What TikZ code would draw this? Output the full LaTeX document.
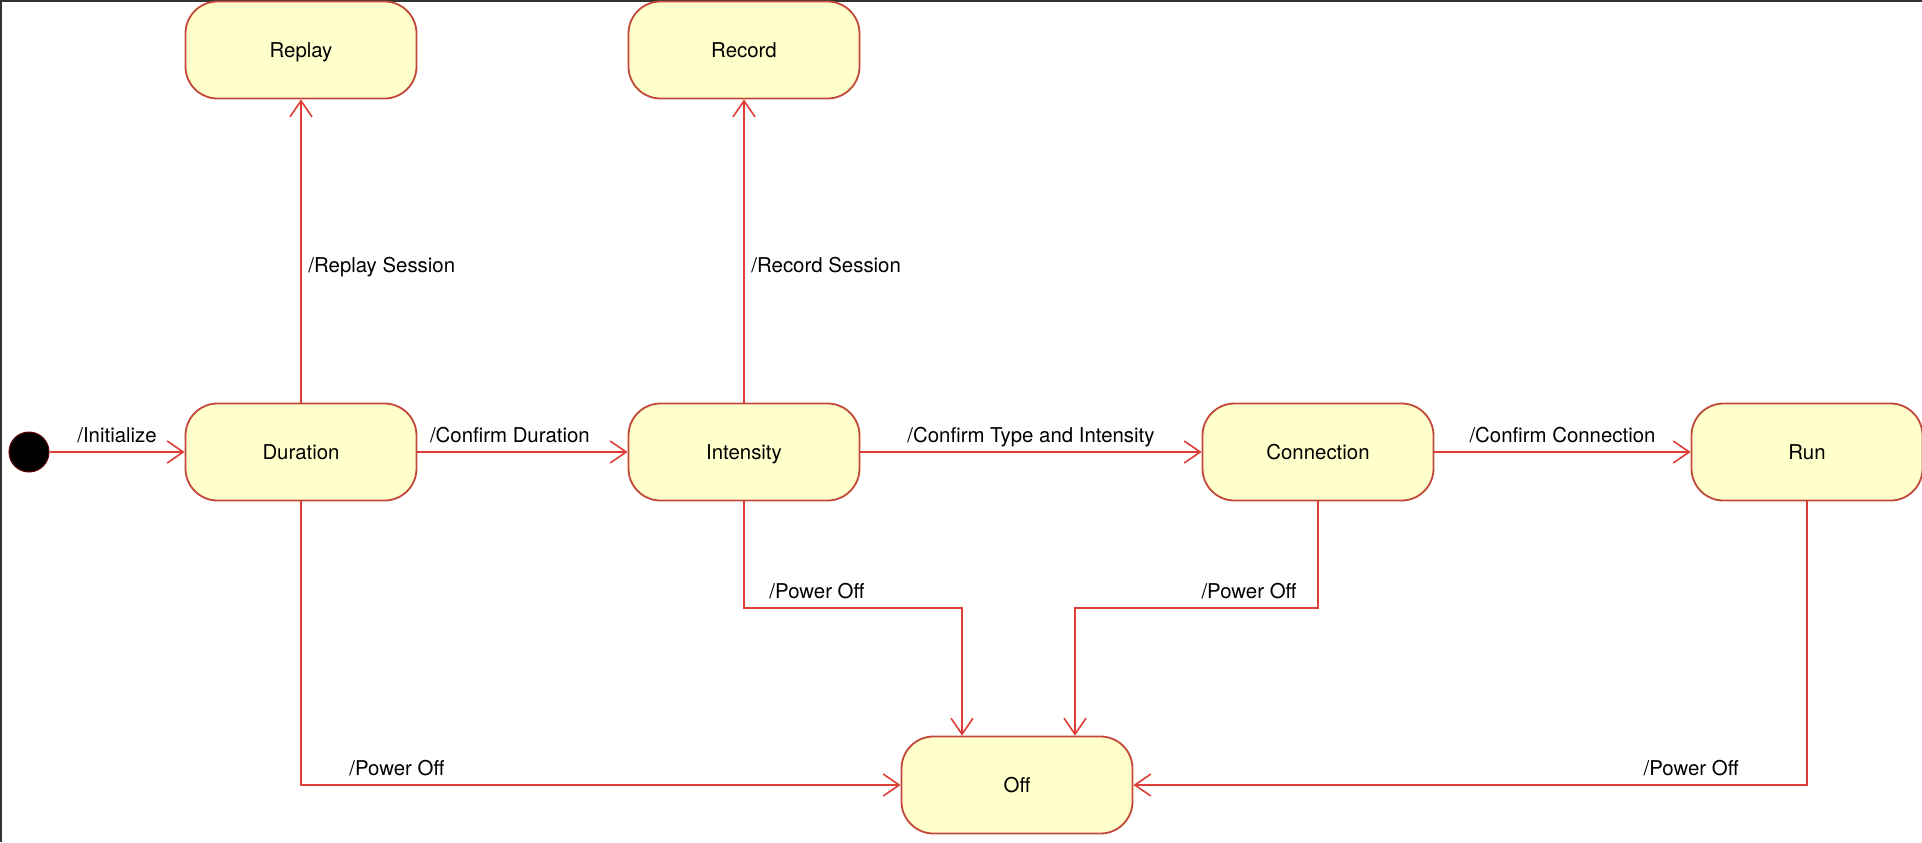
\documentclass[tikz,border=0pt]{standalone}
\usepackage{fontspec}
\setmainfont{TeX Gyre Heros}
\usetikzlibrary{arrows.meta}

\definecolor{linered}{RGB}{222,62,56}
\definecolor{boxred}{RGB}{196,72,58}
\definecolor{boxfill}{RGB}{255,255,204}

\begin{document}
\begin{tikzpicture}[x=0.5pt,y=-0.5pt,
	font=\fontsize{10.2pt}{12pt}\selectfont,
	state/.style={draw=boxred,fill=boxfill,line width=0.9pt,rounded corners=16pt,
		minimum width=115.5pt,minimum height=48.5pt,inner sep=0pt,text depth=0pt},
	lbl/.style={text depth=1pt},
	trans/.style={draw=linered,line width=0.8pt,-{Straight Barb[length=8pt,width=11pt]}}]
	\useasboundingbox (0,0) rectangle (1922,842);
	\fill[white] (0,0) rectangle (1922,842);
	\draw[black!80,line width=1pt] (1,842) -- (1,1) -- (1922,1);

	\node[state] (replay) at (301,50) {Replay};
	\node[state] (record) at (744,50) {Record};
	\node[state] (duration) at (301,452) {Duration};
	\node[state] (intensity) at (744,452) {Intensity};
	\node[state] (connection) at (1318,452) {Connection};
	\node[state] (run) at (1807,452) {Run};
	\node[state] (off) at (1017,785) {Off};
	\node[circle,fill=black,draw=red!40!black,line width=0.5pt,minimum size=20pt,inner sep=0pt] (init) at (29,452) {};

	\coordinate (knee) at (0,608);
	\coordinate (offa) at ([xshift=-27.5pt]off.north);
	\coordinate (offb) at ([xshift=29pt]off.north);

	\draw[trans] (init) -- node[lbl,above]{/Initialize} (duration);
	\draw[trans] (duration) -- node[lbl,above,pos=0.44]{/Confirm Duration} (intensity);
	\draw[trans] (intensity) -- node[lbl,above]{/Confirm Type and Intensity} (connection);
	\draw[trans] (connection) -- node[lbl,above]{/Confirm Connection} (run);

	\draw[trans] (duration) -- node[lbl,right,pos=0.45]{/Replay Session} (replay);
	\draw[trans] (intensity) -- node[lbl,right,pos=0.45]{/Record Session} (record);

	\draw[trans] (intensity) -- (intensity |- knee) node[lbl,above right,xshift=9pt]{/Power Off} -| (offa);
	\draw[trans] (connection) -- (connection |- knee) node[lbl,above left,xshift=-7pt]{/Power Off} -| (offb);
	\draw[trans] (duration) |- node[lbl,above,pos=0.58]{/Power Off} (off);
	\draw[trans] (run) |- node[lbl,above,pos=0.586]{/Power Off} (off);
\end{tikzpicture}
\end{document}
